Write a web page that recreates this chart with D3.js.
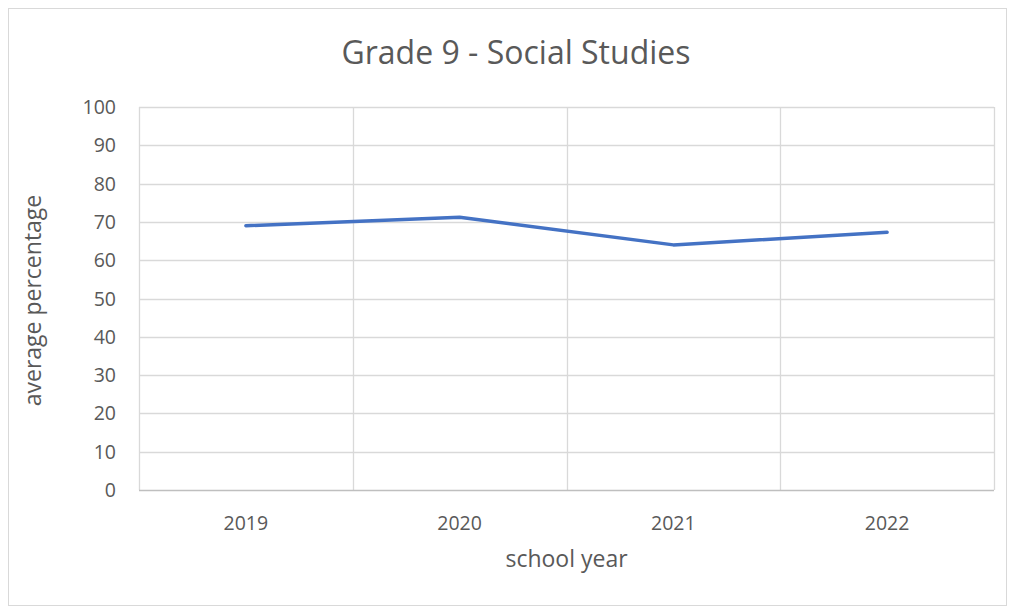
<!DOCTYPE html>
<html>
<head>
<meta charset="utf-8">
<script src="https://cdn.jsdelivr.net/npm/d3@7"></script>
<style>
  html, body { margin: 0; padding: 0; background: #fff; }
  svg { display: block; }
  text { font-family: "Open Sans", "Liberation Sans", sans-serif; fill: #595959; }
</style>
</head>
<body>
<svg id="chart" width="1015" height="609"></svg>
<script>
// Average percentage by school year
const years = ["2019", "2020", "2021", "2022"];
const averages = [69.0, 71.2, 64.0, 67.3];
const yTicks = [0, 10, 20, 30, 40, 50, 60, 70, 80, 90, 100];

const svg = d3.select("#chart");
const plot = { left: 139, right: 994, top: 107, bottom: 490 };

// Outer chart frame
svg.append("rect")
  .attr("x", 8.5).attr("y", 8.5)
  .attr("width", 998).attr("height", 597)
  .attr("fill", "#fff").attr("stroke", "#d9d9d9").attr("stroke-width", 1);

const x = d3.scaleBand().domain(years).range([plot.left, plot.right]).paddingInner(0).paddingOuter(0);
const y = d3.scaleLinear().domain([0, 100]).range([plot.bottom, plot.top]);

// Horizontal gridlines
svg.append("g")
  .selectAll("line")
  .data(yTicks.filter(d => d > 0))
  .join("line")
  .attr("x1", plot.left).attr("x2", plot.right)
  .attr("y1", d => Math.round(y(d)) + 0.5).attr("y2", d => Math.round(y(d)) + 0.5)
  .attr("stroke", "#d9d9d9").attr("stroke-width", 1.3);

// Vertical gridlines at category boundaries
const bounds = years.map(d => x(d)).concat([x(years[years.length - 1]) + x.bandwidth()]);
svg.append("g")
  .selectAll("line")
  .data(bounds)
  .join("line")
  .attr("x1", d => Math.round(d) + 0.5).attr("x2", d => Math.round(d) + 0.5)
  .attr("y1", plot.top).attr("y2", plot.bottom)
  .attr("stroke", "#d9d9d9").attr("stroke-width", 1.3);

// Category axis baseline
svg.append("line")
  .attr("x1", plot.left).attr("x2", plot.right)
  .attr("y1", y(0) + 0.5).attr("y2", y(0) + 0.5)
  .attr("stroke", "#bfbfbf").attr("stroke-width", 1.5);

// Y tick labels
svg.append("g")
  .selectAll("text")
  .data(yTicks)
  .join("text")
  .attr("x", 116)
  .attr("y", d => y(d))
  .attr("dy", "0.36em")
  .attr("text-anchor", "end")
  .attr("font-size", 19.5)
  .text(d => d);

// X tick labels
svg.append("g")
  .selectAll("text")
  .data(years)
  .join("text")
  .attr("x", d => x(d) + x.bandwidth() / 2)
  .attr("y", 530)
  .attr("text-anchor", "middle")
  .attr("font-size", 19.5)
  .text(d => d);

// Series line
const line = d3.line()
  .x((d, i) => x(years[i]) + x.bandwidth() / 2)
  .y(d => y(d));

svg.append("path")
  .datum(averages)
  .attr("d", line)
  .attr("fill", "none")
  .attr("stroke", "#4472c4")
  .attr("stroke-width", 3.5)
  .attr("stroke-linejoin", "round")
  .attr("stroke-linecap", "round");

// Title
svg.append("text")
  .attr("x", 516).attr("y", 64)
  .attr("text-anchor", "middle")
  .attr("font-size", 32)
  .text("Grade 9 - Social Studies");

// Axis titles
svg.append("text")
  .attr("x", (plot.left + plot.right) / 2).attr("y", 567)
  .attr("text-anchor", "middle")
  .attr("font-size", 23)
  .text("school year");

svg.append("text")
  .attr("transform", `translate(41, ${(plot.top + plot.bottom) / 2 + 2}) rotate(-90)`)
  .attr("text-anchor", "middle")
  .attr("font-size", 23)
  .text("average percentage");
</script>
</body>
</html>
